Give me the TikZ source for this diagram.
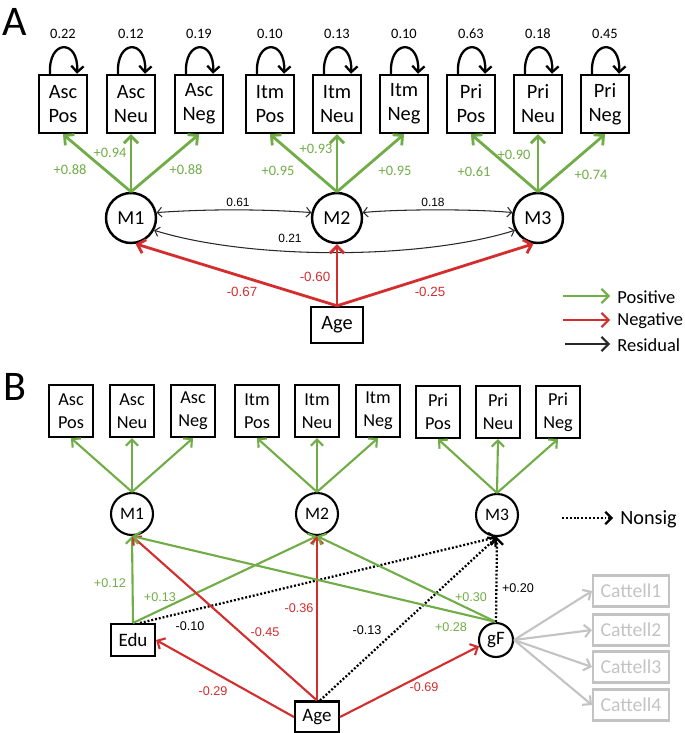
\documentclass[tikz,border=0pt]{standalone}
\usepackage{fontspec}
\setmainfont{Carlito}
\newfontfamily\numfont{Liberation Sans}
\usepackage{tikz}
\usetikzlibrary{arrows.meta}

\definecolor{posgreen}{RGB}{112,173,71}
\definecolor{negred}{RGB}{211,45,45}
\definecolor{residgray}{RGB}{40,40,40}
\definecolor{cattgray}{RGB}{195,195,195}
\newcommand{\setfs}[2]{\fontsize{#1}{#2}\selectfont}

\begin{document}
\begin{tikzpicture}[x=0.02cm, y=-0.02cm,
  panel/.style={font=\setfs{24}{26}, inner sep=0pt},
  obs/.style={draw, line width=1.4pt, minimum width=0.96cm, minimum height=1.16cm, align=center, inner sep=1pt, font=\setfs{11.6}{13.7}},
  obsB/.style={draw, line width=1.2pt, minimum width=0.88cm, minimum height=1.04cm, align=center, inner sep=1pt, font=\setfs{10.4}{13}},
  lat/.style={draw, circle, line width=1.4pt, minimum size=1cm, inner sep=0pt, font=\setfs{11.3}{12}},
  latB/.style={draw, circle, line width=1.2pt, minimum size=0.84cm, inner sep=0pt, font=\setfs{10}{11}},
  posarr/.style={posgreen, line width=1.6pt, -{Straight Barb[length=4pt,width=8pt]}},
  negarr/.style={negred, line width=1.6pt, -{Straight Barb[length=4pt,width=8pt]}},
  posarrB/.style={posgreen, line width=1.2pt, -{Straight Barb[length=3.5pt,width=7pt]}},
  negarrB/.style={negred, line width=1.2pt, -{Straight Barb[length=3.5pt,width=7pt]}},
  nsarr/.style={black, line width=1.3pt, dash pattern=on 1.1pt off 1.1pt, -{Straight Barb[length=3.5pt,width=7pt]}},
  catarr/.style={cattgray, line width=1.2pt, -{Straight Barb[length=3.5pt,width=7pt]}},
  residarr/.style={residgray, line width=0.6pt, {Straight Barb[length=2.5pt,width=5.5pt]}-{Straight Barb[length=2.5pt,width=5.5pt]}},
  selfloop/.style={black, line width=1.3pt, -{Straight Barb[length=3.5pt,width=7pt]}},
  lbl/.style={font=\setfs{8.2}{9}, inner sep=0pt},
  numlbl/.style={font=\numfont\setfs{7.6}{9}, inner sep=0pt},
  numlblB/.style={font=\numfont\setfs{7.2}{8}, inner sep=0pt},
  legtxt/.style={font=\setfs{10.5}{12}, inner sep=0pt, anchor=west}
]
\useasboundingbox (0,0) rectangle (685,733);

% ---------- Panel A ----------
\node[panel] (pA) at (15,22) {A};

% indicators
\node[obs] (aAscPos) at (63,104) {Asc\\Pos};
\node[obs] (aAscNeu) at (131,104) {Asc\\Neu};
\node[obs] (aAscNeg) at (199,104) {Asc\\Neg};
\node[obs] (aItmPos) at (270,104) {Itm\\Pos};
\node[obs] (aItmNeu) at (337,104) {Itm\\Neu};
\node[obs] (aItmNeg) at (404,104) {Itm\\Neg};
\node[obs] (aPriPos) at (471,104) {Pri\\Pos};
\node[obs] (aPriNeu) at (538,104) {Pri\\Neu};
\node[obs] (aPriNeg) at (605,104) {Pri\\Neg};

% residual variances
\foreach \b/\v in {aAscPos/0.22, aAscNeu/0.12, aAscNeg/0.19, aItmPos/0.10, aItmNeu/0.13,
                   aItmNeg/0.10, aPriPos/0.63, aPriNeu/0.18, aPriNeg/0.45}{
  \draw[selfloop] ([xshift=-0.26cm]\b.north) .. controls ([xshift=-0.3cm,yshift=0.7cm]\b.north)
     and ([xshift=0.32cm,yshift=0.7cm]\b.north) .. ([xshift=0.28cm]\b.north);
  \node[lbl] (v\b) at ([yshift=0.8cm]\b.north) {\v};
}

% latent factors
\node[lat] (aM1) at (131,218) {M1};
\node[lat] (aM2) at (337,218) {M2};
\node[lat] (aM3) at (538,218) {M3};
\node[obs, minimum width=1.04cm, minimum height=0.72cm] (aAge) at (337,325) {Age};

% loadings
\draw[posarr] (aM1.north) -- (aAscPos.south);
\draw[posarr] (aM1.north) -- (aAscNeu.south);
\draw[posarr] (aM1.north) -- (aAscNeg.south);
\draw[posarr] (aM2.north) -- (aItmPos.south);
\draw[posarr] (aM2.north) -- (aItmNeu.south);
\draw[posarr] (aM2.north) -- (aItmNeg.south);
\draw[posarr] (aM3.north) -- (aPriPos.south);
\draw[posarr] (aM3.north) -- (aPriNeu.south);
\draw[posarr] (aM3.north) -- (aPriNeg.south);
\node[lbl, posgreen] (la1) at (70,170) {+0.88};
\node[lbl, posgreen] (la2) at (110,153) {+0.94};
\node[lbl, posgreen] (la3) at (186,170) {+0.88};
\node[lbl, posgreen] (la4) at (278,171) {+0.95};
\node[lbl, posgreen] (la5) at (316,149) {+0.93};
\node[lbl, posgreen] (la6) at (395,171) {+0.95};
\node[lbl, posgreen] (la7) at (474,172) {+0.61};
\node[lbl, posgreen] (la8) at (514,155) {+0.90};
\node[lbl, posgreen] (la9) at (591,175) {+0.74};

% factor covariances
\draw[residarr] (aM1.12) .. controls (208,209) and (260,209) .. (aM2.168);
\draw[residarr] (aM2.12) .. controls (400,209) and (475,209) .. (aM3.168);
\draw[residarr] (aM1.-28) .. controls (250,260) and (420,260) .. (aM3.-152);
\node[numlbl, font=\numfont\setfs{6.8}{8}] (c12) at (238,202) {0.61};
\node[numlbl, font=\numfont\setfs{6.8}{8}] (c23) at (433,202) {0.18};
\node[numlbl, font=\numfont\setfs{6.8}{8}] (c13) at (290,238) {0.21};

% age effects
\draw[negarr] (aAge.north) -- (aM1.-80);
\draw[negarr] (aAge.north) -- (aM2.south);
\draw[negarr] (aAge.north) -- (aM3.-100);
\node[numlbl, negred] (ra1) at (242,292) {-0.67};
\node[numlbl, negred] (ra2) at (315,277) {-0.60};
\node[numlbl, negred] (ra3) at (430,292) {-0.25};

% legend
\coordinate (kP1) at (563,296); \coordinate (kP2) at (610,296);
\coordinate (kN1) at (563,320); \coordinate (kN2) at (610,320);
\coordinate (kR1) at (565,344); \coordinate (kR2) at (610,344);
\draw[posarr, line width=1.2pt] (kP1) -- (kP2);
\draw[negarr, line width=1.2pt] (kN1) -- (kN2);
\draw[residgray, line width=1.2pt, -{Straight Barb[length=4pt,width=8pt]}] (kR1) -- (kR2);
\node[legtxt] (tPos) at (617,297) {Positive};
\node[legtxt] (tNeg) at (617,321) {Negative};
\node[legtxt] (tRes) at (617,345) {Residual};

% ---------- Panel B ----------
\node[panel] (pB) at (15,387) {B};

\node[obsB] (bAscPos) at (71,411) {Asc\\Pos};
\node[obsB] (bAscNeu) at (132,411) {Asc\\Neu};
\node[obsB] (bAscNeg) at (193,411) {Asc\\Neg};
\node[obsB] (bItmPos) at (257,411) {Itm\\Pos};
\node[obsB] (bItmNeu) at (317,411) {Itm\\Neu};
\node[obsB] (bItmNeg) at (378,411) {Itm\\Neg};
\node[obsB] (bPriPos) at (438,412) {Pri\\Pos};
\node[obsB] (bPriNeu) at (498,412) {Pri\\Neu};
\node[obsB] (bPriNeg) at (558,412) {Pri\\Neg};

\node[latB] (bM1) at (132,514) {M1};
\node[latB] (bM2) at (317,514) {M2};
\node[latB] (bM3) at (497,515) {M3};

\node[obsB, minimum height=0.64cm, font=\setfs{10.8}{12}] (Edu) at (133,640) {Edu};
\node[obsB, minimum height=0.62cm, font=\setfs{10.8}{12}] (bAge) at (317,717) {Age};
\node[latB, minimum size=0.68cm, font=\setfs{10.8}{12}] (gF) at (496,640) {gF};

\node[obsB, draw=cattgray, text=cattgray, minimum width=1.52cm, minimum height=0.62cm, font=\setfs{11.2}{12}] (Cattell1) at (631,591) {Cattell1};
\node[obsB, draw=cattgray, text=cattgray, minimum width=1.52cm, minimum height=0.62cm, font=\setfs{11.2}{12}] (Cattell2) at (631,630) {Cattell2};
\node[obsB, draw=cattgray, text=cattgray, minimum width=1.52cm, minimum height=0.62cm, font=\setfs{11.2}{12}] (Cattell3) at (631,667) {Cattell3};
\node[obsB, draw=cattgray, text=cattgray, minimum width=1.52cm, minimum height=0.62cm, font=\setfs{11.2}{12}] (Cattell4) at (631,705) {Cattell4};

% loadings
\draw[posarrB] (bM1.north) -- (bAscPos.south);
\draw[posarrB] (bM1.north) -- (bAscNeu.south);
\draw[posarrB] (bM1.north) -- (bAscNeg.south);
\draw[posarrB] (bM2.north) -- (bItmPos.south);
\draw[posarrB] (bM2.north) -- (bItmNeu.south);
\draw[posarrB] (bM2.north) -- (bItmNeg.south);
\draw[posarrB] (bM3.north) -- (bPriPos.south);
\draw[posarrB] (bM3.north) -- (bPriNeu.south);
\draw[posarrB] (bM3.north) -- (bPriNeg.south);

% gF indicators
\draw[catarr] (gF.east) -- (Cattell1.west);
\draw[catarr] (gF.east) -- (Cattell2.west);
\draw[catarr] (gF.east) -- (Cattell3.west);
\draw[catarr] (gF.east) -- (Cattell4.west);

% predictors
\draw[posarrB] (Edu.north) -- (bM1.south);
\draw[posarrB] (Edu.north) -- (bM2.south);
\draw[nsarr] ([xshift=0.14cm]Edu.north) -- (bM3.south);
\draw[negarrB] (bAge.north) -- (bM1.south);
\draw[negarrB] (bAge.north) -- (bM2.south);
\draw[nsarr] ([xshift=0.06cm]bAge.north) -- (bM3.south);
\draw[negarrB] (bAge.west) -- (Edu.east);
\draw[negarrB] (bAge.east) -- (gF.200);
\draw[posarrB] (gF.north) -- (bM1.south);
\draw[posarrB] (gF.north) -- (bM2.south);
\draw[nsarr] (gF.north) -- (bM3.south);

\node[numlblB, posgreen] (lb1) at (110,583) {+0.12};
\node[numlblB, posgreen] (lb2) at (160,597) {+0.13};
\node[numlblB] (lb3) at (190,626) {-0.10};
\node[numlblB, negred] (lb4) at (265,632) {-0.45};
\node[numlblB, negred] (lb5) at (299,608) {-0.36};
\node[numlblB] (lb6) at (367,630) {-0.13};
\node[numlblB, negred] (lb7) at (213,691) {-0.29};
\node[numlblB, negred] (lb8) at (424,687) {-0.69};
\node[numlblB, posgreen] (lb9) at (451,627) {+0.28};
\node[numlblB, posgreen] (lb10) at (471,597) {+0.30};
\node[numlblB] (lb11) at (518,588) {+0.20};

% legend
\coordinate (kS1) at (562,518); \coordinate (kS2) at (613,518);
\draw[nsarr] (kS1) -- (kS2);
\node[legtxt, font=\setfs{11.5}{12}] (tNs) at (620,519) {Nonsig};

\end{tikzpicture}
\end{document}
